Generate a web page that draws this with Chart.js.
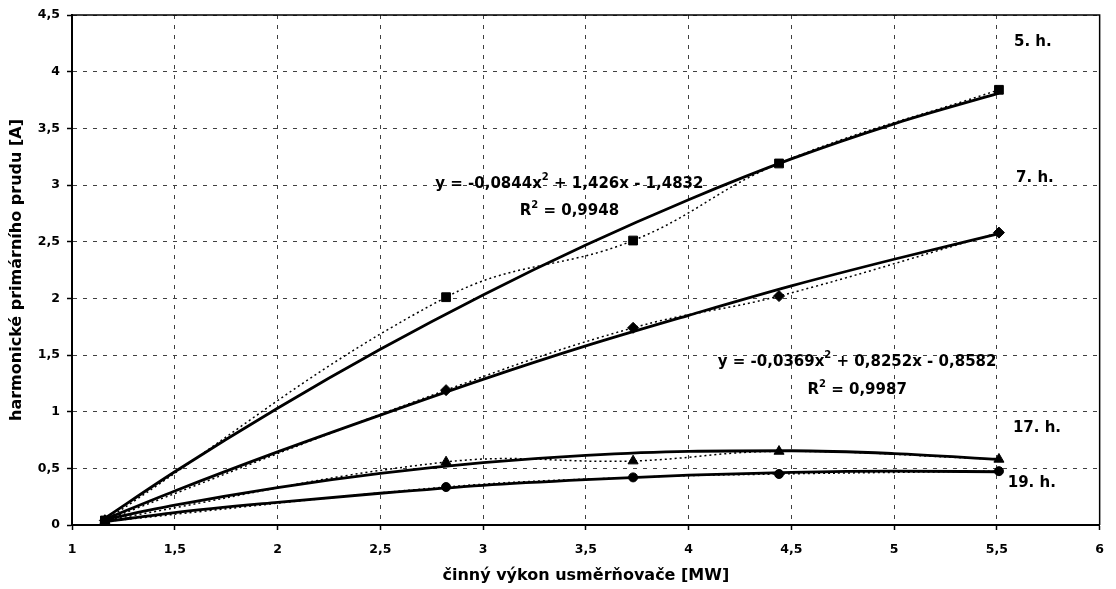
<!DOCTYPE html>
<html>
<head>
<meta charset="utf-8">
<script src="https://cdn.jsdelivr.net/npm/chart.js@4.4.0/dist/chart.umd.min.js"></script>
<style>
  html, body { margin: 0; padding: 0; background: #fff; }
  #wrap { width: 1116px; height: 589px; }
</style>
</head>
<body>
<div id="wrap"><canvas id="chart" width="1116" height="589"></canvas></div>
<script>
// measured points (active power of the rectifier [MW] -> harmonic current [A])
const power = [1.16, 2.82, 3.73, 4.44, 5.51];
const h5 = [0.04, 2.01, 2.51, 3.19, 3.84];
const h7 = [0.04, 1.19, 1.74, 2.02, 2.58];
const h17 = [0.04, 0.556, 0.565, 0.65, 0.58];
const h19 = [0.03, 0.335, 0.42, 0.45, 0.475];

// trend curves
const trendX = [1.16, 1.5, 2, 2.5, 3, 3.5, 4, 4.5, 5, 5.51];
const trend5 = [0.06, 0.47, 1.03, 1.55, 2.03, 2.47, 2.87, 3.23, 3.54, 3.81];
const trend7 = [0.05, 0.30, 0.645, 0.97, 1.285, 1.58, 1.85, 2.11, 2.345, 2.57];
const trend17 = [0.05, 0.175, 0.33, 0.455, 0.55, 0.615, 0.65, 0.655, 0.63, 0.58];
const trend19 = [0.03, 0.11, 0.20, 0.28, 0.35, 0.40, 0.44, 0.465, 0.475, 0.47];

const xTicks = ['1', '1,5', '2', '2,5', '3', '3,5', '4', '4,5', '5', '5,5', '6'];
const yTicks = ['0', '0,5', '1', '1,5', '2', '2,5', '3', '3,5', '4', '4,5'];

const FONT = '"DejaVu Sans", sans-serif';

// text placed in the plot, anchored in data units; parts with sup:true are superscripts
const notes = [
  { x: 5.675, y: 4.26, parts: [{ t: '5. h.' }] },
  { x: 5.685, y: 3.06, parts: [{ t: '7. h.' }] },
  { x: 5.695, y: 0.856, parts: [{ t: '17. h.' }] },
  { x: 5.67, y: 0.37, parts: [{ t: '19. h.' }] },
  { x: 3.42, y: 3.01, parts: [{ t: 'y = -0,0844x' }, { t: '2', sup: true }, { t: ' + 1,426x - 1,4832' }] },
  { x: 3.42, y: 2.77, parts: [{ t: 'R' }, { t: '2', sup: true }, { t: ' = 0,9948' }] },
  { x: 4.82, y: 1.44, parts: [{ t: 'y = -0,0369x' }, { t: '2', sup: true }, { t: ' + 0,8252x - 0,8582' }] },
  { x: 4.82, y: 1.19, parts: [{ t: 'R' }, { t: '2', sup: true }, { t: ' = 0,9987' }] }
];

const pts = (xs, ys) => xs.map((x, i) => ({ x, y: ys[i] }));

function measured(ys, style, radius) {
  return {
    data: pts(power, ys),
    borderColor: '#000',
    borderWidth: 1.5,
    borderDash: [2, 3],
    tension: 0.4,
    pointStyle: style,
    pointRadius: radius,
    pointBackgroundColor: '#000',
    pointBorderColor: '#000',
    pointBorderWidth: 1,
    order: 0
  };
}

function trend(ys) {
  return {
    data: pts(trendX, ys),
    borderColor: '#000',
    borderWidth: 2.8,
    pointRadius: 0,
    cubicInterpolationMode: 'monotone',
    order: 1
  };
}

const notesPlugin = {
  id: 'notes',
  afterDraw(chart) {
    const { ctx, chartArea: a, scales } = chart;
    ctx.save();
    // frame on top and right
    ctx.strokeStyle = '#000';
    ctx.lineWidth = 1.5;
    ctx.beginPath();
    ctx.moveTo(a.left, a.top);
    ctx.lineTo(a.right, a.top);
    ctx.lineTo(a.right, a.bottom);
    ctx.stroke();

    ctx.fillStyle = '#000';
    ctx.textBaseline = 'middle';
    ctx.textAlign = 'left';
    const big = 'bold 15px ' + FONT;
    const small = 'bold 10px ' + FONT;
    notes.forEach(n => {
      let w = 0;
      n.parts.forEach(p => { ctx.font = p.sup ? small : big; p.w = ctx.measureText(p.t).width; w += p.w; });
      let x = scales.x.getPixelForValue(n.x) - w / 2;
      const y = scales.y.getPixelForValue(n.y);
      n.parts.forEach(p => {
        ctx.font = p.sup ? small : big;
        ctx.fillText(p.t, x, p.sup ? y - 6 : y);
        x += p.w;
      });
    });
    ctx.restore();
  }
};

const gridStyle = {
  color: '#404040',
  lineWidth: 1,
  tickLength: 5,
  tickColor: '#000',
  tickWidth: 1.5,
  tickBorderDash: []
};

// in Chart.js v4 the grid line dash lives under border.dash
const borderStyle = { color: '#000', width: 2, dash: [4, 6] };

new Chart(document.getElementById('chart'), {
  type: 'line',
  data: {
    datasets: [
      measured(h5, 'rect', 6.2),
      measured(h7, 'rectRot', 5.5),
      measured(h17, 'triangle', 5.8),
      measured(h19, 'circle', 4.5),
      trend(trend5),
      trend(trend7),
      trend(trend17),
      trend(trend19)
    ]
  },
  options: {
    responsive: false,
    animation: false,
    layout: { padding: { left: 0, right: 11, top: 15, bottom: 0 } },
    plugins: { legend: { display: false }, tooltip: { enabled: false } },
    scales: {
      x: {
        type: 'linear',
        min: 1,
        max: 6,
        afterFit(s) { s.height = 64; },
        grid: gridStyle,
        border: borderStyle,
        ticks: {
          stepSize: 0.5,
          padding: 12,
          color: '#000',
          font: { family: FONT, size: 12.5, weight: 'bold' },
          callback: v => xTicks[Math.round((v - 1) / 0.5)]
        },
        title: {
          display: true,
          text: 'činný výkon usměrňovače [MW]',
          color: '#000',
          font: { family: FONT, size: 16, weight: 'bold' },
          padding: { top: 0, bottom: 4 }
        }
      },
      y: {
        min: 0,
        max: 4.5,
        afterFit(s) { s.width = 72; },
        grid: gridStyle,
        border: borderStyle,
        ticks: {
          stepSize: 0.5,
          padding: 7,
          color: '#000',
          font: { family: FONT, size: 12.5, weight: 'bold' },
          callback: v => yTicks[Math.round(v / 0.5)]
        },
        title: {
          display: true,
          text: 'harmonické primárního prudu [A]',
          color: '#000',
          font: { family: FONT, size: 16, weight: 'bold' },
          padding: { top: 7, bottom: 0 }
        }
      }
    }
  },
  plugins: [notesPlugin]
});
</script>
</body>
</html>
